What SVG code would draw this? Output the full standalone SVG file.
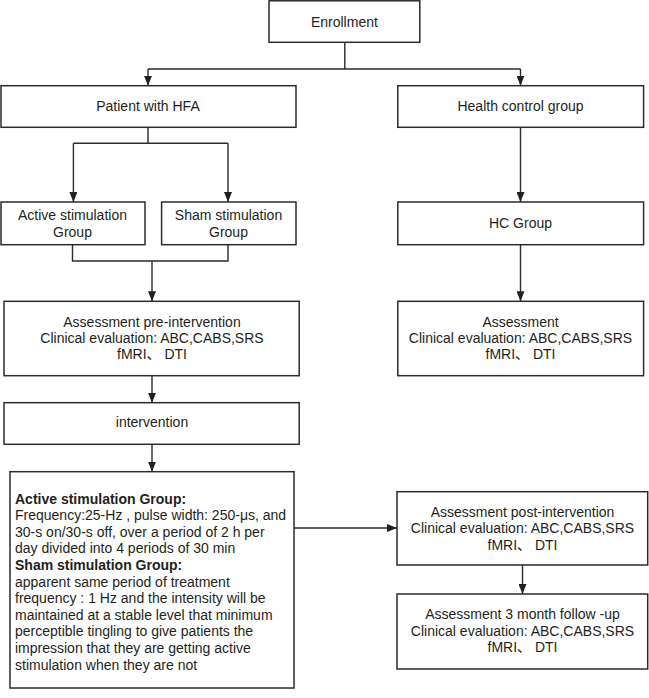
<svg xmlns="http://www.w3.org/2000/svg" width="649" height="698" viewBox="0 0 649 698">
<style>
.box{fill:#ffffff;stroke:#2b2b2b;stroke-width:1.5}
.t{font-family:"Liberation Sans","Noto Sans CJK SC",Arial,sans-serif;font-size:14px;fill:#231f20;text-anchor:middle}
.l{font-family:"Liberation Sans","Noto Sans CJK SC",Arial,sans-serif;font-size:14px;fill:#231f20}
.b{font-weight:bold}
.c{fill:none;stroke:#2b2b2b;stroke-width:1.4}
</style>
<defs>
<marker id="arr" markerUnits="userSpaceOnUse" markerWidth="10" markerHeight="8" viewBox="0 0 10 8" refX="10" refY="4" orient="auto">
<path d="M0,0 L10,4 L0,8 Z" fill="#231f20"/>
</marker>
</defs>
<rect width="649" height="698" fill="#ffffff"/>
<g id="connectors">
<path class="c" d="M344.8 42.3 V69 M148 69 H520.5"/>
<path class="c" d="M148 69 V85.7" marker-end="url(#arr)"/>
<path class="c" d="M520.5 69 V85.7" marker-end="url(#arr)"/>
<path class="c" d="M148 127.3 V143.3 M73.4 143.3 H228"/>
<path class="c" d="M73.4 143.3 V202" marker-end="url(#arr)"/>
<path class="c" d="M228 143.3 V202" marker-end="url(#arr)"/>
<path class="c" d="M520.5 127.3 V202" marker-end="url(#arr)"/>
<path class="c" d="M72.5 244.7 V261 H228 V244.7"/>
<path class="c" d="M152 261 V301.3" marker-end="url(#arr)"/>
<path class="c" d="M520.5 244.7 V301.3" marker-end="url(#arr)"/>
<path class="c" d="M152 375.7 V402.7" marker-end="url(#arr)"/>
<path class="c" d="M152 444.3 V471.7" marker-end="url(#arr)"/>
<path class="c" d="M294 528 H397" marker-end="url(#arr)"/>
<path class="c" d="M522.5 565 V594" marker-end="url(#arr)"/>
</g>
<g id="enrollment">
<rect class="box" x="269" y="0.8" width="150.8" height="41.5"/>
<text class="t" x="344.4" y="26.7">Enrollment</text>
</g>
<g id="patient">
<rect class="box" x="1" y="85.7" width="295" height="41.6"/>
<text class="t" x="148" y="111">Patient with HFA</text>
</g>
<g id="health">
<rect class="box" x="397.8" y="85.7" width="245.8" height="41.6"/>
<text class="t" x="520.5" y="111">Health control group</text>
</g>
<g id="active">
<rect class="box" x="1" y="202" width="144" height="42.7"/>
<text class="t" x="72.5" y="220">Active stimulation</text>
<text class="t" x="72.5" y="236.5">Group</text>
</g>
<g id="sham">
<rect class="box" x="161.6" y="202" width="134.4" height="42.7"/>
<text class="t" x="228.5" y="220">Sham stimulation</text>
<text class="t" x="228.5" y="236.5">Group</text>
</g>
<g id="hc">
<rect class="box" x="397.8" y="202" width="245.8" height="42.7"/>
<text class="t" x="520.5" y="228.3">HC Group</text>
</g>
<g id="pre">
<rect class="box" x="4" y="301.3" width="295.2" height="74.4"/>
<text class="t" x="152" y="326.5">Assessment pre-intervention</text>
<text class="t" x="152" y="342.5">Clinical evaluation: ABC,CABS,SRS</text>
<text class="t" x="152" y="358.5">fMRI、 DTI</text>
</g>
<g id="assessment">
<rect class="box" x="397.8" y="301.3" width="245.8" height="74.4"/>
<text class="t" x="520.5" y="326.5">Assessment</text>
<text class="t" x="520.5" y="342.5">Clinical evaluation: ABC,CABS,SRS</text>
<text class="t" x="520.5" y="358.5">fMRI、 DTI</text>
</g>
<g id="intervention">
<rect class="box" x="4" y="402.7" width="295.2" height="41.6"/>
<text class="t" x="152" y="427">intervention</text>
</g>
<g id="details">
<rect class="box" x="10" y="471.7" width="284" height="216.3"/>
<text class="l b" x="15" y="503.5">Active stimulation Group:</text>
<text class="l" x="15" y="520.1">Frequency:25-Hz , pulse width: 250-μs, and</text>
<text class="l" x="15" y="536.7">30-s on/30-s off, over a period of 2 h per</text>
<text class="l" x="15" y="553.3">day divided into 4 periods of 30 min</text>
<text class="l b" x="15" y="569.9">Sham stimulation Group:</text>
<text class="l" x="15" y="586.5">apparent same period of treatment</text>
<text class="l" x="15" y="603.1">frequency : 1 Hz and the intensity will be</text>
<text class="l" x="15" y="619.7">maintained at a stable level that minimum</text>
<text class="l" x="15" y="636.3">perceptible tingling to give patients the</text>
<text class="l" x="15" y="652.9">impression that they are getting active</text>
<text class="l" x="15" y="669.5">stimulation when they are not</text>
</g>
<g id="post">
<rect class="box" x="397" y="491.7" width="250.7" height="73.3"/>
<text class="t" x="522.5" y="517">Assessment post-intervention</text>
<text class="t" x="522.5" y="533.3">Clinical evaluation: ABC,CABS,SRS</text>
<text class="t" x="522.5" y="549.6">fMRI、 DTI</text>
</g>
<g id="followup">
<rect class="box" x="397" y="594" width="250.7" height="75"/>
<text class="t" x="522.5" y="619.3">Assessment 3 month follow -up</text>
<text class="t" x="522.5" y="635.8">Clinical evaluation: ABC,CABS,SRS</text>
<text class="t" x="522.5" y="652.2">fMRI、 DTI</text>
</g>
</svg>
